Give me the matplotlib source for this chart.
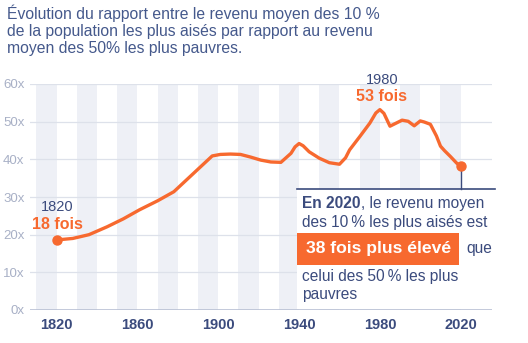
import matplotlib.pyplot as plt
from matplotlib.patches import Rectangle

plt.rcParams['font.family'] = ['Liberation Sans', 'DejaVu Sans']

# ratio revenu moyen top 10 % / bottom 50 %
years = [1820, 1828, 1836, 1845, 1853, 1861, 1870, 1878, 1886, 1893, 1897, 1901, 1906,
         1911, 1916, 1921, 1926, 1931, 1936, 1938, 1940, 1942, 1945, 1950, 1955,
         1960, 1963, 1965, 1970, 1975, 1978, 1980, 1982, 1985, 1988, 1991, 1994,
         1997, 2000, 2002, 2005, 2008, 2010, 2012, 2015, 2018, 2020]
ratio = [18.6, 19.0, 20.0, 22.1, 24.2, 26.6, 29.0, 31.4, 35.4, 38.9, 40.9, 41.3, 41.4,
         41.3, 40.6, 39.8, 39.3, 39.2, 41.6, 43.3, 44.2, 43.6, 42.0, 40.3, 39.1,
         38.7, 40.4, 42.5, 46.0, 49.6, 52.3, 53.2, 52.2, 48.8, 49.6, 50.4, 50.1,
         48.9, 50.2, 49.9, 49.3, 46.2, 43.5, 42.3, 40.7, 39.0, 38.2]

yticks = [0, 10, 20, 30, 40, 50, 60]
ytick_labels = ['0x', '10x', '20x', '30x', '40x', '50x', '60x']
xticks = [1820, 1860, 1900, 1940, 1980, 2020]
bands = list(range(1810, 2020, 20))

orange = '#f7692f'
navy = '#3b4b7d'
title_blue = '#45598c'
light = '#a8b0c6'

fig = plt.figure(figsize=(5.28, 3.43), dpi=100)
ax = fig.add_axes([30 / 528, 1 - 310 / 343, 462 / 528, 226 / 343])
ax.set_xlim(1806.8, 2035.5)
ax.set_ylim(0, 60)

for b in bands:
    ax.axvspan(b, b + 10, color='#eef0f6', lw=0, zorder=0)
for t in yticks[1:]:
    ax.axhline(t, color='#dde1ea', lw=0.9, zorder=1)

# white panel behind the 2020 note
ax.add_patch(Rectangle((1939, 0.3), 98, 31.8, facecolor='white', edgecolor='none',
                       zorder=2, clip_on=False))
ax.axhline(0, color='#b9c0d4', lw=1.2, zorder=3)

ax.plot(years, ratio, color=orange, lw=2.4, zorder=4, solid_capstyle='round',
        solid_joinstyle='round')
ax.plot([years[0], years[-1]], [ratio[0], ratio[-1]], 'o', color=orange, ms=6.5, zorder=5)

for s in ax.spines.values():
    s.set_visible(False)
ax.set_yticks(yticks)
ax.set_yticklabels(ytick_labels, color=light, fontsize=9.5)
ax.set_xticks(xticks)
ax.set_xticklabels([str(x) for x in xticks], color=navy, fontsize=10.5, fontweight='bold')
ax.tick_params(length=0, pad=6)
ax.tick_params(axis='y', pad=4)

ax.text(1820.5, 27.3, '1820', ha='center', va='center', color=navy, fontsize=10.5)
ax.text(1820.5, 22.8, '18 fois', ha='center', va='center', color=orange,
        fontsize=11.5, fontweight='bold')
ax.text(1981, 61.0, '1980', ha='center', va='center', color=navy, fontsize=10.5,
        clip_on=False)
ax.text(1981, 56.6, '53 fois', ha='center', va='center', color=orange,
        fontsize=11.5, fontweight='bold')

# note 2020
ax.plot([2020, 2020], [ratio[-1], 32.1], color=navy, lw=1, zorder=3)
ax.plot([1939, 2037], [32.1, 32.1], color=navy, lw=1.2, zorder=3, clip_on=False)

fs = 11.2
t1 = ax.text(1941.5, 28.3, 'En 2020', ha='left', va='center', color=navy,
             fontsize=fs, fontweight='bold', zorder=6)
ax.annotate(', le revenu moyen', xy=(1, 0.5), xycoords=t1, ha='left', va='center',
            color=navy, fontsize=fs, zorder=6)
ax.text(1941.5, 23.3, 'des 10\u2009% les plus aisés est', ha='left', va='center',
        color=navy, fontsize=fs, zorder=6)
ax.text(1943.2, 16.2, '38 fois plus élevé', ha='left', va='center', color='white',
        fontsize=12.6, fontweight='bold', zorder=6,
        bbox=dict(boxstyle='square,pad=0.5', facecolor=orange, edgecolor='none'))
ax.text(2022.6, 16.2, 'que', ha='left', va='center', color=navy, fontsize=fs, zorder=6)
ax.text(1941.5, 8.8, 'celui des 50\u2009% les plus', ha='left', va='center',
        color=navy, fontsize=fs, zorder=6)
ax.text(1941.5, 4.0, 'pauvres', ha='left', va='center', color=navy, fontsize=fs, zorder=6)

fig.text(7 / 528, 1 - 4 / 343,
         'Évolution du rapport entre le revenu moyen des 10 %\n'
         'de la population les plus aisés par rapport au revenu\n'
         'moyen des 50% les plus pauvres.',
         ha='left', va='top', color=title_blue, fontsize=11.3, linespacing=1.2)

fig.savefig('out.png', dpi=100)
